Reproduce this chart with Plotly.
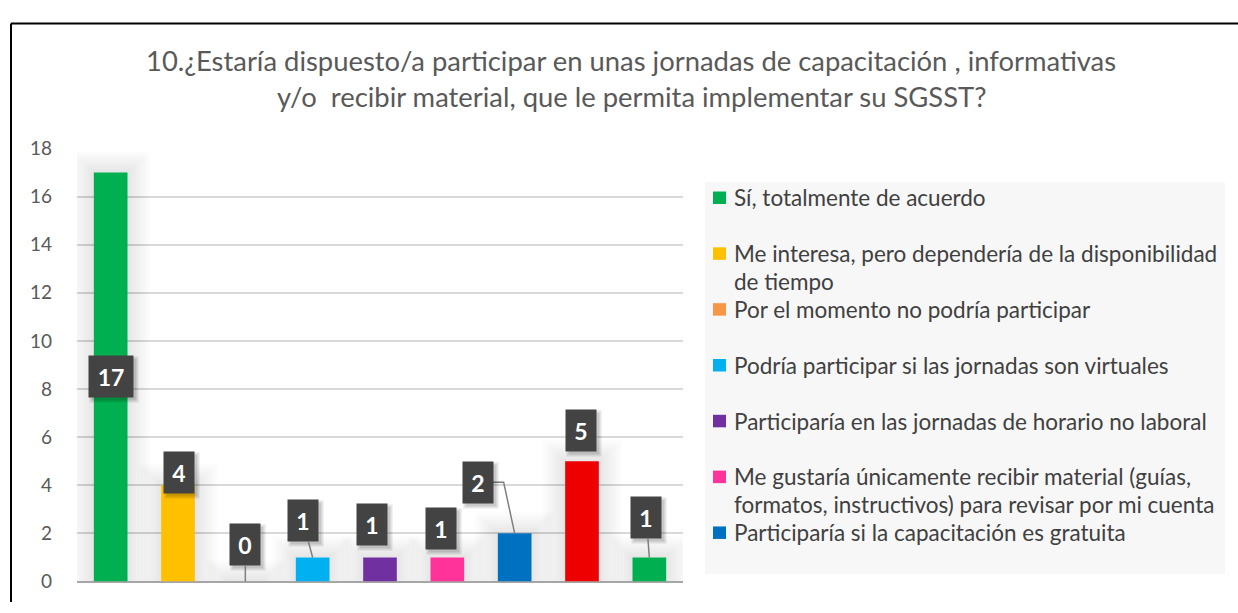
import plotly.graph_objects as go

# ---------------- data ----------------
categories = [
    "Sí, totalmente de acuerdo",
    "Me interesa, pero dependería de la disponibilidad de tiempo",
    "Por el momento no podría participar",
    "Podría participar si las jornadas son virtuales",
    "Participaría en las jornadas de horario no laboral",
    "Me gustaría únicamente recibir material (guías, formatos, instructivos) para revisar por mi cuenta",
    "Participaría si la capacitación es gratuita",
    "Otra respuesta A",
    "Otra respuesta B",
]
values = [17, 4, 0, 1, 1, 1, 2, 5, 1]
bar_colors = ["#00B050", "#FFC000", "#F79646", "#00B0F0", "#7030A0",
              "#FF3399", "#0070C0", "#EE0000", "#00B050"]
legend_labels = [
    "Sí, totalmente de acuerdo",
    "Me interesa, pero dependería de la disponibilidad<br>de tiempo",
    "Por el momento no podría participar",
    "Podría participar si las jornadas son virtuales",
    "Participaría en las jornadas de horario no laboral",
    "Me gustaría únicamente recibir material (guías,<br>formatos, instructivos) para revisar por mi cuenta",
    "Participaría si la capacitación es gratuita",
]
y_ticks = [0, 2, 4, 6, 8, 10, 12, 14, 16, 18]
title_lines = [
    "10.¿Estaría dispuesto/a participar en unas jornadas de capacitación , informativas",
    "y/o  recibir material, que le permita implementar su SGSST?",
]

# ---------------- style (label placement in pixels) ----------------
# (mode, dx, dy): "center" = inside centre, "shift" = offset without leader,
# "lead" = straight leader line, "elbow" = elbow leader line
label_style = [("center", 0, 0), ("shift", 1, -13), ("lead", 0, -37), ("lead", -10, -37),
               ("shift", -8, -33), ("shift", -6, -29), ("elbow", -37, -51), ("shift", -1, -31),
               ("lead", -3, -40)]

W, H = 1238, 613
FONT = "Lato"
x_idx = list(range(len(categories)))

fig = go.Figure()

# soft glow behind the bars (Excel shadow effect)
n_glow = 8
for k in range(n_glow, 0, -1):
    fig.add_trace(go.Bar(
        x=x_idx, y=[v + 0.11 * k for v in values], width=0.5 + 0.085 * k,
        marker=dict(color="rgba(0,0,0,0.011)", line=dict(width=0)),
        showlegend=False, hoverinfo="skip",
    ))

fig.add_trace(go.Bar(
    x=x_idx, y=values, width=0.5,
    marker=dict(color=bar_colors, line=dict(width=0)),
    hovertext=categories, showlegend=False, hoverinfo="skip",
))


def px(x):
    return x / W


def py(y):
    return 1 - y / H


annotations = []
shapes = []
for i, line in enumerate(title_lines):
    annotations.append(dict(
        xref="paper", yref="paper", x=px(631), y=py(50 + 38 * i),
        text=line, showarrow=False, xanchor="center", yanchor="middle",
        font=dict(family=FONT, size=27.4, color="#595959"),
    ))

for i, (v, (mode, dx, dy)) in enumerate(zip(values, label_style)):
    bw = 16 + 14 * len(str(v))
    base = dict(
        xref="x", yref="y", x=i, text=f"<b>{v}</b>",
        font=dict(family=FONT, size=23, color="#FFFFFF"),
        bgcolor="#434343", width=bw, height=41, borderpad=0,
        xanchor="center", yanchor="middle",
    )
    shadow1 = dict(base, text="", bgcolor="rgba(0,0,0,0.10)", width=bw + 4, height=45)
    shadow2 = dict(base, text="", bgcolor="rgba(0,0,0,0.12)")
    if mode == "center":
        base.update(y=v / 2, showarrow=False)
        sx, sy, yy = 0, 0, v / 2
    elif mode == "lead":
        base.update(y=v, showarrow=True, ax=dx, ay=dy, arrowhead=0,
                    arrowwidth=1.5, arrowcolor="#7F7F7F", standoff=0)
        sx, sy, yy = dx, -dy, v
    else:
        base.update(y=v, showarrow=False, xshift=dx, yshift=-dy)
        sx, sy, yy = dx, -dy, v
        if mode == "elbow":
            ex = dx + bw / 2
            shapes.append(dict(
                type="path", xref="x", yref="y", xsizemode="pixel", ysizemode="pixel",
                xanchor=i, yanchor=v,
                path=f"M {ex},{-dy} L {ex + 11},{-dy} L 0,0",
                line=dict(color="#7F7F7F", width=1.5),
            ))
    shadow1.update(y=yy, showarrow=False, xshift=sx + 3, yshift=sy - 3)
    shadow2.update(y=yy, showarrow=False, xshift=sx + 3, yshift=sy - 3)
    annotations.extend([shadow1, shadow2, base])

leg_top, slot = 193, 29
shapes.append(dict(type="rect", xref="paper", yref="paper",
                   x0=px(705), x1=px(1225), y0=py(584), y1=py(177),
                   fillcolor="#F7F7F7", line=dict(width=0), layer="below"))
for i, lab in enumerate(legend_labels):
    yc = leg_top + 2 * slot * i
    shapes.append(dict(type="rect", xref="paper", yref="paper",
                       x0=px(713), x1=px(726), y0=py(yc + 6.5), y1=py(yc - 6.5),
                       fillcolor=bar_colors[i], line=dict(width=0)))
    for j, part in enumerate(lab.split("<br>")):
        annotations.append(dict(
            xref="paper", yref="paper", x=px(732), y=py(yc + slot * j),
            text=part, showarrow=False, xanchor="left", yanchor="middle",
            font=dict(family=FONT, size=22.5, color="#404040"),
        ))

shapes.append(dict(type="line", xref="paper", yref="paper",
                   x0=px(11), x1=1, y0=py(12), y1=py(12),
                   line=dict(color="#000000", width=2)))
shapes.append(dict(type="line", xref="paper", yref="paper",
                   x0=px(11), x1=px(11), y0=py(12), y1=0,
                   line=dict(color="#000000", width=2)))

fig.update_layout(
    width=W, height=H,
    margin=dict(l=0, r=0, t=0, b=0),
    paper_bgcolor="#FFFFFF", plot_bgcolor="#FFFFFF",
    annotations=annotations, shapes=shapes,
    barmode="overlay",
    xaxis=dict(domain=[px(77), px(683)], range=[-0.5, len(categories) - 0.5],
               showticklabels=False, showgrid=False, zeroline=False,
               showline=False, ticks="", fixedrange=True),
    yaxis=dict(domain=[py(591.7), py(141.7)], range=[0, 18],
               tickvals=y_ticks, ticktext=[str(t) for t in y_ticks],
               showgrid=True, gridcolor="#D9D9D9", gridwidth=1.5,
               zeroline=True, zerolinecolor="#A6A6A6", zerolinewidth=2,
               showline=False, ticks="", ticklabelstandoff=24, fixedrange=True,
               tickfont=dict(family=FONT, size=19, color="#595959")),
    font=dict(family=FONT),
    hovermode=False,
)

fig.write_html(
    "out.html",
    config={"displayModeBar": False},
    post_script="document.body.style.margin='0';document.body.style.overflow='hidden';",
)
